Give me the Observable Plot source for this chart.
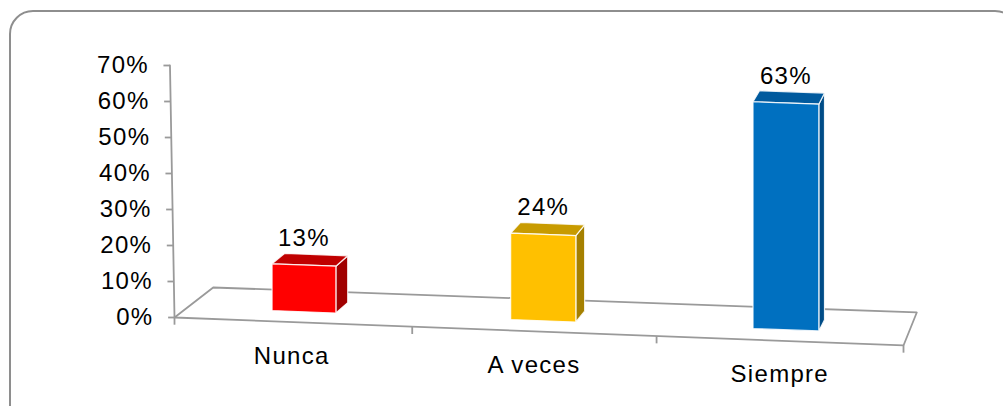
<!DOCTYPE html>
<html>
<head>
<meta charset="utf-8">
<script src="https://cdn.jsdelivr.net/npm/d3@7"></script>
<script src="https://cdn.jsdelivr.net/npm/@observablehq/plot@0.6"></script>
<style>
  body { margin: 0; background: #fff; overflow: hidden; }
  #frame { position: absolute; left: 9px; top: 10px; width: 1010px; height: 420px;
           border: 2px solid #8e8e8e; border-radius: 24px; box-sizing: border-box; }
  #chart { position: absolute; left: 0; top: 0; }
</style>
</head>
<body>
<div id="frame"></div>
<div id="chart"></div>
<script>
// Survey answers and their share of responses (%)
const categories = ["Nunca", "A veces", "Siempre"];
const values = [13, 24, 63];
const yTicks = [0, 10, 20, 30, 40, 50, 60, 70];

// Face colours of each 3D column
const frontColors = ["#ff0000", "#ffc000", "#0070c0"];
const topColors = ["#c00000", "#c89b00", "#005a9e"];
const sideColors = ["#a00000", "#a58000", "#004c87"];

// Oblique 3D view: x in category slots (0..3), y in percent.
const slots = categories.length;
const tilt = 2.59;                         // floor drop per slot, in %
const depthX = u => (41 - 9.33 * u) / 243; // depth shift along x, in slots
const depthY = u => (30 + u) / 3.6;        // depth rise along y, in %
const barFront = 0.34, barDepth = 0.34, barWidth = 0.27;
const lean = 0.000294;                     // value axis lean, slots per %

const proj = (u, d, v) => ({x: u + d * depthX(u), y: v - tilt * u + d * depthY(u)});
const axisAt = v => ({x: -lean * v, y: v});
const gridGray = "#9a9a9a";

const marks = [];

// floor outline
const floor = [proj(0, 0, 0), proj(slots, 0, 0), proj(slots, 1, 0), proj(0, 1, 0)];
marks.push(Plot.line(floor, {x: "x", y: "y", curve: "linear-closed", stroke: gridGray, strokeWidth: 1.8}));

// category ticks hanging from the front edge of the floor
const catTicks = d3.range(slots + 1).map(u => proj(u, 0, 0));
marks.push(Plot.link(catTicks, {x1: "x", y1: "y", x2: "x", y2: d => d.y - 2, stroke: gridGray, strokeWidth: 1.8}));

// value axis line, ticks and labels
marks.push(Plot.line([axisAt(0), axisAt(yTicks[yTicks.length - 1])], {x: "x", y: "y", stroke: gridGray, strokeWidth: 1.8}));
marks.push(Plot.link(yTicks, {x1: v => axisAt(v).x - 7 / 243, x2: v => axisAt(v).x, y1: v => v, y2: v => v, stroke: gridGray, strokeWidth: 1.8}));
marks.push(Plot.text(yTicks, {x: v => axisAt(v).x, y: v => v, text: v => `${v}%`, textAnchor: "end", dx: -21, fontSize: 24, fill: "#000"}));

// columns: soft shadow, then side, top and front faces
categories.forEach((c, i) => {
  const u0 = i + 0.5 - barWidth / 2, u1 = i + 0.5 + barWidth / 2;
  const d0 = barFront, d1 = barFront + barDepth;
  const v = values[i];

  const shadow = [proj(u0 - 0.04, d0 - 0.02, 0), proj(u1 + 0.09, d0 - 0.02, 0),
                  proj(u1 + 0.09, d1 + 0.18, 0), proj(u0 - 0.04, d1 + 0.18, 0)];
  marks.push(Plot.line(shadow, {x: "x", y: "y", curve: "linear-closed", fill: "#2e2e2e", fillOpacity: 0.75, stroke: "none", ariaLabel: "shadow"}));

  const side = [proj(u1, d0, 0), proj(u1, d1, 0), proj(u1, d1, v), proj(u1, d0, v)];
  const top = [proj(u0, d0, v), proj(u1, d0, v), proj(u1, d1, v), proj(u0, d1, v)];
  const front = [proj(u0, d0, 0), proj(u1, d0, 0), proj(u1, d0, v), proj(u0, d0, v)];
  const face = (pts, fill) => Plot.line(pts, {x: "x", y: "y", curve: "linear-closed", fill, stroke: "#ffffff", strokeWidth: 1.2, strokeOpacity: 0.85});
  marks.push(face(side, sideColors[i]), face(top, topColors[i]), face(front, frontColors[i]));
});

// value labels above each column
const labelData = categories.map((c, i) => ({
  x: proj(i + 0.5, barFront, values[i]).x,
  y: proj(i + 0.5, barFront + barDepth, values[i]).y,
  text: `${values[i]}%`
}));
marks.push(Plot.text(labelData, {x: "x", y: "y", text: "text", dy: -16, fontSize: 24, fill: "#000"}));

// category labels under the floor
const catLabels = categories.map((c, i) => ({...proj(i + 0.5, 0, 0), text: c}));
marks.push(Plot.text(catLabels, {x: "x", y: "y", text: "text", dy: 34, fontSize: 24, fill: "#000"}));

const chart = Plot.plot({
  width: 1003,
  height: 406,
  margin: 0,
  x: {type: "pow", exponent: 1.02, domain: [0, slots], range: [174, 903], axis: null},
  y: {domain: [0, 70], range: [317, 65], axis: null},
  style: {fontFamily: "'Liberation Sans', Arial, sans-serif", letterSpacing: "1.3px", background: "transparent", overflow: "visible"},
  marks
});

chart.querySelectorAll('[aria-label="shadow"]').forEach(g => { g.style.filter = "blur(3.5px)"; });
document.getElementById("chart").append(chart);
</script>
</body>
</html>
